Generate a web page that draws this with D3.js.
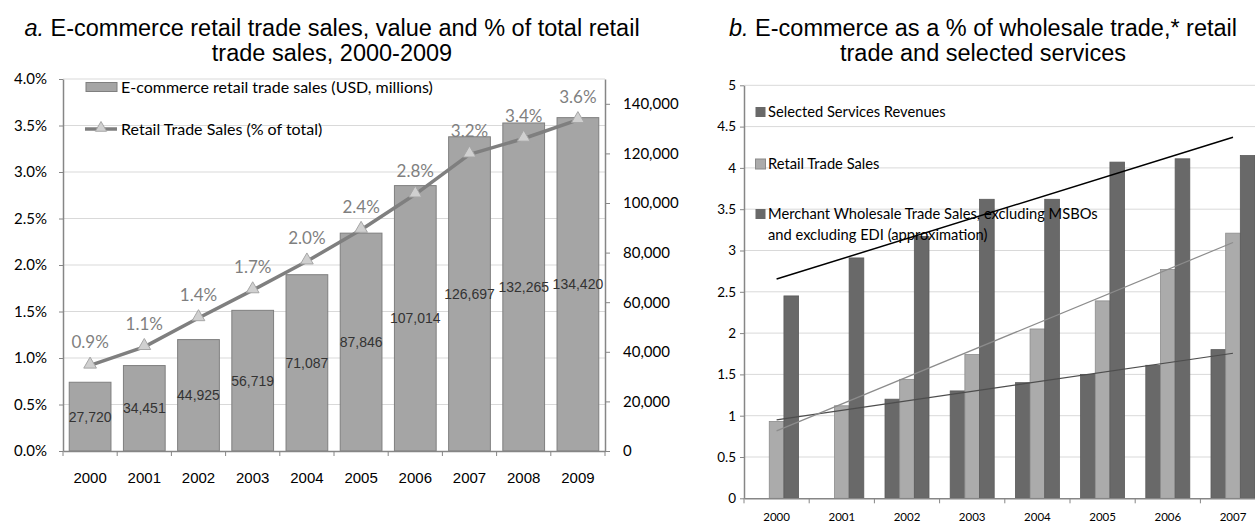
<!DOCTYPE html>
<html><head><meta charset="utf-8">
<script src="https://cdn.jsdelivr.net/npm/d3@7"></script>
<style>
html,body{margin:0;padding:0;background:#fff;}
svg{display:block;}
</style></head>
<body>
<svg id="chart" width="1255" height="526"></svg>
<script>
// ---------- DATA ----------
// Panel a
const yearsA = ["2000","2001","2002","2003","2004","2005","2006","2007","2008","2009"];
const ecomSales = [27720, 34451, 44925, 56719, 71087, 87846, 107014, 126697, 132265, 134420];
const ecomPct = [0.92, 1.12, 1.43, 1.73, 2.04, 2.38, 2.76, 3.19, 3.36, 3.56];
const pctTicks = [0, 0.5, 1, 1.5, 2, 2.5, 3, 3.5, 4];
const salesTicks = [0, 20000, 40000, 60000, 80000, 100000, 120000, 140000];
const legendA = ["E-commerce retail trade sales (USD, millions)", "Retail Trade Sales (% of total)"];
// Panel b
const yearsB = ["2000","2001","2002","2003","2004","2005","2006","2007"];
const seriesB = ["Selected Services Revenues", "Retail Trade Sales", "Merchant Wholesale Trade Sales, excluding MSBOs and excluding EDI (approximation)"];
const servicesRev = [null, null, 1.20, 1.30, 1.40, 1.50, 1.61, 1.80];
const retailSales = [0.93, 1.12, 1.44, 1.74, 2.05, 2.39, 2.77, 3.21];
const wholesaleSales = [2.45, 2.91, 3.17, 3.62, 3.62, 4.07, 4.11, 4.15];
const ticksB = [0, 0.5, 1, 1.5, 2, 2.5, 3, 3.5, 4, 4.5, 5];

// ---------- STYLE ----------
const F_TITLE = "'Liberation Sans', Arial, sans-serif";
const F_CAL = "Lato, 'Open Sans', sans-serif";
const F_NARROW = "'Liberation Sans Narrow', 'Liberation Sans', Arial, sans-serif";
const AXIS = "#868686", GRID = "#d9d9d9";

const svg = d3.select("#chart");
svg.append("rect").attr("width",1255).attr("height",526).attr("fill","#fff");

function title(cx, italicPart, rest, line2) {
  const t = svg.append("text").attr("x", cx).attr("y", 36).attr("text-anchor","middle")
    .attr("font-family", F_TITLE).attr("font-size", 23.5).attr("fill","#000");
  t.append("tspan").attr("font-style","italic").text(italicPart);
  t.append("tspan").text(rest);
  svg.append("text").attr("x", cx).attr("y", 61).attr("text-anchor","middle")
    .attr("font-family", F_TITLE).attr("font-size", 23.5).attr("fill","#000").text(line2);
}

// ================= PANEL A =================
const A = {l:63, r:605, t:79, b:451};
const xA = d3.scaleBand().domain(yearsA).range([A.l, A.r]).paddingInner(0.23).paddingOuter(0.115);
const xAb = d3.scaleBand().domain(yearsA).range([A.l, A.r]);
const yPct = d3.scaleLinear().domain([0, 4]).range([A.b, A.t]);
const ySales = d3.scaleLinear().domain([0, 150000]).range([A.b, A.t]);

title(332, "a.", " E-commerce retail trade sales, value and % of total retail", "trade sales, 2000-2009");

const gA = svg.append("g");
// grid
gA.append("g").selectAll("line").data(pctTicks.filter(d=>d>0)).join("line")
  .attr("x1", A.l).attr("x2", A.r).attr("y1", d=>yPct(d)).attr("y2", d=>yPct(d))
  .attr("stroke", GRID).attr("stroke-width", 1);

// left axis
const axL = gA.append("g").attr("transform", `translate(${A.l},0)`)
  .call(d3.axisLeft(yPct).tickValues(pctTicks).tickFormat(d=>d.toFixed(1)+"%").tickSize(4).tickPadding(12).tickSizeOuter(0));
// right axis
const axR = gA.append("g").attr("transform", `translate(${A.r},0)`)
  .call(d3.axisRight(ySales).tickValues(salesTicks).tickFormat(d3.format(",")).tickSize(5).tickPadding(13).tickSizeOuter(0));
[axL, axR].forEach(ax => {
  ax.select(".domain").attr("stroke", AXIS).attr("stroke-width", 1.5);
  ax.selectAll(".tick line").attr("stroke", AXIS);
  ax.selectAll("text").attr("font-family", F_CAL).attr("font-size", 15).attr("fill","#000");
});

// legend A
gA.append("rect").attr("x", 86).attr("y", 82.5).attr("width", 31).attr("height", 9)
  .attr("fill", "#a5a5a5").attr("stroke", "#7f7f7f");
gA.append("text").attr("x", 121).attr("y", 92.5).attr("font-family", F_CAL).attr("font-size", 16)
  .attr("fill","#000").text(legendA[0]);
gA.append("line").attr("x1", 85).attr("x2", 117).attr("y1", 129).attr("y2", 129)
  .attr("stroke", "#7f7f7f").attr("stroke-width", 3.5);
gA.append("path").attr("d", d3.symbol(d3.symbolTriangle, 55)())
  .attr("transform", "translate(101,128)").attr("fill", "#d0d0d0").attr("stroke", "#a6a6a6");
gA.append("text").attr("x", 121).attr("y", 134.5).attr("font-family", F_CAL).attr("font-size", 16)
  .attr("fill","#000").text(legendA[1]);

// bars
gA.append("g").selectAll("rect").data(ecomSales).join("rect")
  .attr("x", (d,i)=>xA(yearsA[i])).attr("width", xA.bandwidth())
  .attr("y", d=>ySales(d)).attr("height", d=>A.b - ySales(d))
  .attr("fill", "#a5a5a5").attr("stroke", "#7f7f7f").attr("stroke-width", 1);

// bar labels
gA.append("g").selectAll("text").data(ecomSales).join("text")
  .attr("x", (d,i)=>xA(yearsA[i]) + xA.bandwidth()/2)
  .attr("y", d=>(ySales(d) + A.b)/2).attr("dy", "0.35em")
  .attr("text-anchor","middle").attr("font-family", F_NARROW).attr("font-size", 14)
  .attr("fill","#333").text(d=>d3.format(",")(d));

// x axis
const axX = gA.append("g").attr("transform", `translate(0,${A.b})`)
  .call(d3.axisBottom(xAb).tickSize(0).tickPadding(21));
axX.select(".domain").attr("stroke", AXIS).attr("stroke-width", 1.5);
axX.selectAll("text").attr("font-family", F_TITLE).attr("font-size", 15).attr("fill","#000");
gA.append("g").selectAll("line").data(yearsA.concat(["end"])).join("line")
  .attr("x1", (d,i)=>A.l + i*xAb.step()).attr("x2", (d,i)=>A.l + i*xAb.step())
  .attr("y1", A.b).attr("y2", A.b + 5).attr("stroke", AXIS);

// line
const lineA = d3.line().x((d,i)=>xAb(yearsA[i]) + xAb.bandwidth()/2).y(d=>yPct(d));
gA.append("path").datum(ecomPct).attr("d", lineA).attr("fill","none")
  .attr("stroke", "#7f7f7f").attr("stroke-width", 3.5).attr("stroke-linejoin","round");
gA.append("g").selectAll("path").data(ecomPct).join("path")
  .attr("d", d3.symbol(d3.symbolTriangle, 70)())
  .attr("transform", (d,i)=>`translate(${xAb(yearsA[i]) + xAb.bandwidth()/2},${yPct(d)-1})`)
  .attr("fill", "#d0d0d0").attr("stroke", "#a6a6a6");
gA.append("g").selectAll("text").data(ecomPct).join("text")
  .attr("x", (d,i)=>xAb(yearsA[i]) + xAb.bandwidth()/2)
  .attr("y", d=>yPct(d) - 17)
  .attr("text-anchor","middle").attr("font-family", F_CAL).attr("font-size", 17)
  .attr("fill","#7f7f7f").text(d=>d.toFixed(1)+"%");

// ================= PANEL B =================
const B = {l:744, r:1265.6, t:85.3, b:498.3};
const xB = d3.scaleBand().domain(yearsB).range([B.l, B.r]);
const xB1 = d3.scaleBand().domain([0,1,2]).range([0, 44]);
const yB = d3.scaleLinear().domain([0, 5]).range([B.b, B.t]);

title(983, "b.", " E-commerce as a % of wholesale trade,* retail", "trade and selected services");

const gB = svg.append("g");
gB.append("g").selectAll("line").data(ticksB.filter(d=>d>0)).join("line")
  .attr("x1", B.l).attr("x2", B.r).attr("y1", d=>yB(d)).attr("y2", d=>yB(d))
  .attr("stroke", GRID).attr("stroke-width", 1);

const axBL = gB.append("g").attr("transform", `translate(${B.l},0)`)
  .call(d3.axisLeft(yB).tickValues(ticksB).tickFormat(d=>String(d)).tickSize(4).tickPadding(4).tickSizeOuter(0));
axBL.select(".domain").attr("stroke", AXIS).attr("stroke-width", 1.5);
axBL.selectAll(".tick line").attr("stroke", AXIS);
axBL.selectAll("text").attr("font-family", F_CAL).attr("font-size", 13.5).attr("fill","#000");

// bars
const seriesData = [servicesRev, retailSales, wholesaleSales];
const barFill = ["#696969", "#ababab", "#696969"];
const barStroke = ["#5a5a5a", "#8c8c8c", "#5a5a5a"];
const off = (xB.bandwidth() - 44)/2;
seriesData.forEach((arr, si)=>{
  gB.append("g").selectAll("rect").data(arr.map((v,i)=>({v,i})).filter(d=>d.v!=null)).join("rect")
    .attr("x", d=>xB(yearsB[d.i]) + off + xB1(si)).attr("width", xB1.bandwidth())
    .attr("y", d=>yB(d.v)).attr("height", d=>B.b - yB(d.v))
    .attr("fill", barFill[si]).attr("stroke", barStroke[si]).attr("stroke-width", 0.8);
});

// x axis
const axBX = gB.append("g").attr("transform", `translate(0,${B.b})`)
  .call(d3.axisBottom(xB).tickSize(0).tickPadding(14.5));
axBX.select(".domain").attr("stroke", AXIS).attr("stroke-width", 1.5);
axBX.selectAll("text").attr("font-family", F_CAL).attr("font-size", 11.5).attr("fill","#000");
gB.append("g").selectAll("line").data(yearsB).join("line")
  .attr("x1", (d,i)=>B.l + i*xB.step()).attr("x2", (d,i)=>B.l + i*xB.step())
  .attr("y1", B.b).attr("y2", B.b + 5).attr("stroke", AXIS);

// legend B (drawn over bars)
const legColors = ["#696969", "#ababab", "#696969"];
const legY = [112, 164, 214];
seriesB.forEach((s,i)=>{
  gB.append("rect").attr("x", 755.5).attr("y", legY[i]-5).attr("width", 10).attr("height", 10)
    .attr("fill", legColors[i]).attr("stroke", i===1 ? "#8a8a8a" : "none");
});
const legText = [["Selected Services Revenues"],["Retail Trade Sales"],["Merchant Wholesale Trade Sales, excluding MSBOs","and excluding EDI (approximation)"]];
legText.forEach((lines,i)=>{
  lines.forEach((ln,j)=>{
    gB.append("text").attr("x", 768).attr("y", legY[i] + 5 + j*21)
      .attr("font-family", F_CAL).attr("font-size", 14.7).attr("fill","#000").text(ln);
  });
});

// linear trend lines (least squares over available points, x = 1..n)
function trend(arr){
  const pts = arr.map((v,i)=>({x:i+1, y:v})).filter(p=>p.y!=null);
  const mx = d3.mean(pts, p=>p.x), my = d3.mean(pts, p=>p.y);
  const sxy = d3.sum(pts, p=>(p.x-mx)*(p.y-my)), sxx = d3.sum(pts, p=>(p.x-mx)**2);
  const m = sxy/sxx, c = my - m*mx;
  return [1, arr.length].map(x=>({x, y: m*x + c}));
}
const cx = x => xB(yearsB[x-1]) + xB.bandwidth()/2;
const trendStyle = [["#4d4d4d",1.2],["#8c8c8c",1.2],["#000",1.5]];
seriesData.forEach((arr, si)=>{
  const t = trend(arr);
  gB.append("line").attr("x1", cx(t[0].x)).attr("y1", yB(t[0].y))
    .attr("x2", cx(t[1].x)).attr("y2", yB(t[1].y))
    .attr("stroke", trendStyle[si][0]).attr("stroke-width", trendStyle[si][1]);
});
</script>
</body></html>
